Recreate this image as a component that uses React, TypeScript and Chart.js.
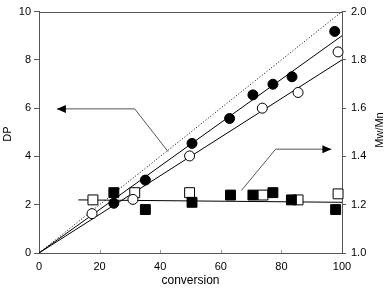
import { useEffect, useRef } from "react";
import { Chart, registerables } from "chart.js";
Chart.register(...registerables);

// ---- data ----
const convFilledCircle = [24.7, 35.1, 50.5, 62.9, 70.6, 77.2, 83.5, 97.6];
const dpFilledCircle = [2.06, 3.02, 4.54, 5.57, 6.55, 6.99, 7.3, 9.18];
const convOpenCircle = [17.5, 31.0, 49.7, 73.7, 85.5, 98.7];
const dpOpenCircle = [1.63, 2.22, 4.02, 6.0, 6.65, 8.33];
const convFilledSquare = [24.7, 35.1, 50.5, 63.2, 70.6, 77.2, 83.3, 97.9];
const pdiFilledSquare = [1.25, 1.18, 1.21, 1.24, 1.24, 1.25, 1.22, 1.18];
const convOpenSquare = [17.8, 31.6, 49.7, 73.9, 85.5, 98.7];
const pdiOpenSquare = [1.22, 1.25, 1.25, 1.24, 1.22, 1.245];

const fitConv = [0, 100];
const theoreticalDP = [0, 10];
const fitDPFilled = [0, 9.0];
const fitDPOpen = [0, 8.0];
const pdiFitConv = [13, 100];
const pdiFit = [1.22, 1.21];

// arrows (in conversion / DP coordinates)
const leftArrowConv = [42.6, 31.6, 5.9];
const leftArrowDP = [4.2, 5.97, 5.97];
const rightArrowConv = [66.8, 78.1, 96.5];
const rightArrowDP = [2.59, 4.3, 4.3];

const xTicks = [0, 20, 40, 60, 80, 100];
const dpTicks = [0, 2, 4, 6, 8, 10];
const pdiTicks = [1.0, 1.2, 1.4, 1.6, 1.8, 2.0];

const FONT = '"Liberation Sans", Arial, Helvetica, sans-serif';
const AXIS = "#555";

const pts = (xs: number[], ys: number[]) => xs.map((x, i) => ({ x, y: ys[i] }));

export default function App() {
  const ref = useRef<HTMLCanvasElement | null>(null);

  useEffect(() => {
    if (!ref.current) return;

    const decor = {
      id: "decor",
      beforeDatasetsDraw(chart: any) {
        const { ctx, chartArea: a, scales } = chart;
        ctx.save();
        ctx.strokeStyle = AXIS;
        ctx.lineWidth = 1;
        ctx.beginPath();
        ctx.moveTo(a.left, Math.round(a.top) + 0.5);
        ctx.lineTo(a.right, Math.round(a.top) + 0.5);
        ctx.stroke();
        ctx.strokeStyle = "#999";
        ctx.beginPath();
        xTicks.slice(1, -1).forEach((v) => {
          const px = Math.round(scales.x.getPixelForValue(v)) + 0.5;
          ctx.moveTo(px, a.bottom);
          ctx.lineTo(px, a.bottom - 3);
        });
        ctx.stroke();
        ctx.restore();
      },
      afterDatasetsDraw(chart: any) {
        const { ctx, scales } = chart;
        const drawArrow = (xs: number[], ys: number[]) => {
          const p = xs.map((x, i) => [scales.x.getPixelForValue(x), scales.y.getPixelForValue(ys[i])]);
          ctx.save();
          ctx.strokeStyle = "#555";
          ctx.lineWidth = 1;
          ctx.beginPath();
          ctx.moveTo(p[0][0], p[0][1]);
          for (let i = 1; i < p.length; i++) ctx.lineTo(p[i][0], p[i][1]);
          ctx.stroke();
          const [tx, ty] = p[p.length - 1];
          const [fx, fy] = p[p.length - 2];
          const ang = Math.atan2(ty - fy, tx - fx);
          const L = 9, W = 4;
          ctx.fillStyle = "#000";
          ctx.beginPath();
          ctx.moveTo(tx, ty);
          ctx.lineTo(tx - L * Math.cos(ang) + W * Math.sin(ang), ty - L * Math.sin(ang) - W * Math.cos(ang));
          ctx.lineTo(tx - L * Math.cos(ang) - W * Math.sin(ang), ty - L * Math.sin(ang) + W * Math.cos(ang));
          ctx.closePath();
          ctx.fill();
          ctx.restore();
        };
        drawArrow(leftArrowConv, leftArrowDP);
        drawArrow(rightArrowConv, rightArrowDP);
      },
      afterDraw(chart: any) {
        const { ctx, chartArea: a } = chart;
        ctx.save();
        ctx.fillStyle = "#000";
        ctx.textAlign = "center";
        ctx.textBaseline = "middle";
        ctx.font = `12px ${FONT}`;
        ctx.fillText("conversion", (a.left + a.right) / 2, 281);
        ctx.font = `11px ${FONT}`;
        ctx.save();
        ctx.translate(8, 134);
        ctx.rotate(-Math.PI / 2);
        ctx.fillText("DP", 0, 0);
        ctx.restore();
        ctx.save();
        ctx.translate(380, 130);
        ctx.rotate(-Math.PI / 2);
        ctx.fillText("Mw/Mn", 0, 0);
        ctx.restore();
        ctx.restore();
      },
    };

    const lineDs = (data: any[], yAxisID: string, dash: number[] = []) => ({
      data,
      yAxisID,
      showLine: true,
      borderColor: "#000",
      borderWidth: 1,
      borderDash: dash,
      pointRadius: 0,
      pointHoverRadius: 0,
      fill: false,
      order: 2,
    });
    const markDs = (data: any[], yAxisID: string, style: string, filled: boolean, r: number) => ({
      data,
      yAxisID,
      showLine: false,
      pointStyle: style,
      pointRadius: r,
      pointBackgroundColor: filled ? "#000" : "#fff",
      pointBorderColor: "#000",
      pointBorderWidth: 1,
      clip: false,
      order: 1,
    });

    const chart = new Chart(ref.current, {
      type: "scatter",
      data: {
        datasets: [
          lineDs(pts(fitConv, theoreticalDP), "y", [1, 2]),
          lineDs(pts(fitConv, fitDPFilled), "y"),
          lineDs(pts(fitConv, fitDPOpen), "y"),
          lineDs(pts(pdiFitConv, pdiFit), "y2"),
          markDs(pts(convFilledCircle, dpFilledCircle), "y", "circle", true, 5),
          markDs(pts(convOpenCircle, dpOpenCircle), "y", "circle", false, 5),
          markDs(pts(convFilledSquare, pdiFilledSquare), "y2", "rect", true, 7),
          markDs(pts(convOpenSquare, pdiOpenSquare), "y2", "rect", false, 7),
        ] as any,
      },
      options: {
        animation: false,
        responsive: false,
        devicePixelRatio: 1,
        events: [],
        layout: { padding: { top: 9, left: 0, right: 0, bottom: 0 } },
        plugins: { legend: { display: false }, tooltip: { enabled: false } },
        scales: {
          x: {
            type: "linear",
            min: 0,
            max: 100,
            afterBuildTicks: (s: any) => { s.ticks = xTicks.map((v) => ({ value: v })); },
            afterFit: (s: any) => { s.height = 36; },
            grid: { drawOnChartArea: false, drawTicks: false },
            border: { display: true, color: AXIS, width: 1 },
            ticks: { color: "#000", font: { family: FONT, size: 11 }, padding: 7, maxRotation: 0, autoSkip: false },
          },
          y: {
            type: "linear",
            position: "left",
            min: 0,
            max: 10,
            afterBuildTicks: (s: any) => { s.ticks = dpTicks.map((v) => ({ value: v })); },
            afterFit: (s: any) => { s.width = 39; },
            grid: { drawOnChartArea: false, drawTicks: true, tickLength: 5, color: AXIS },
            border: { display: true, color: AXIS, width: 1 },
            ticks: { color: "#000", font: { family: FONT, size: 11 }, padding: 3, autoSkip: false },
          },
          y2: {
            type: "linear",
            position: "right",
            min: 1,
            max: 2,
            afterBuildTicks: (s: any) => { s.ticks = pdiTicks.map((v) => ({ value: v })); },
            afterFit: (s: any) => { s.width = 47; },
            grid: { drawOnChartArea: false, drawTicks: true, tickLength: 4, color: AXIS },
            border: { display: true, color: AXIS, width: 1 },
            ticks: {
              color: "#000",
              font: { family: FONT, size: 11 },
              padding: 5,
              autoSkip: false,
              callback: (v: any) => Number(v).toFixed(1),
            },
          },
        },
      } as any,
      plugins: [decor],
    });
    return () => chart.destroy();
  }, []);

  return (
    <div style={{ position: "absolute", left: 0, top: 0, width: 389, height: 289, background: "#fff" }}>
      <canvas ref={ref} width={389} height={289} style={{ display: "block" }} />
    </div>
  );
}
